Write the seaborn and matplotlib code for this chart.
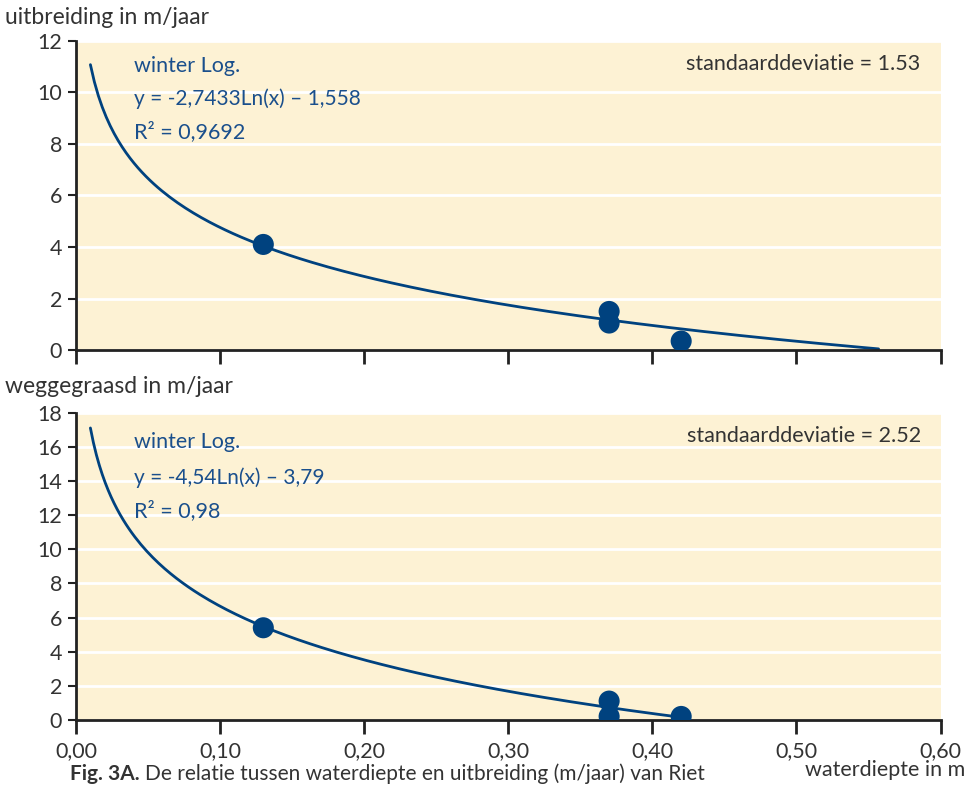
import numpy as np
import pandas as pd
import seaborn as sns
import matplotlib.pyplot as plt

# measured points (waterdiepte in m, m/jaar)
depth = [0.13, 0.37, 0.37, 0.42]
uitbreiding = [4.1, 1.5, 1.05, 0.35]
weggegraasd = [5.4, 1.1, 0.2, 0.2]

# log fits as printed in the chart: y = a*ln(x) + b
fit_top = (-2.7433, -1.558)
fit_bot = (-4.54, -3.79)
fit_top_range = (0.01, 0.557)
fit_bot_range = (0.01, 0.42)

x_ticks = [0.0, 0.1, 0.2, 0.3, 0.4, 0.5, 0.6]
x_tick_labels = ['0,00', '0,10', '0,20', '0,30', '0,40', '0,50', '0,60']

sns.set_style('white')
plt.rcParams['font.family'] = ['Lato', 'DejaVu Sans']

bg = '#fdf2d4'
blue = '#00427f'
txt_blue = '#1a4f8c'
grey = '#333333'

fig = plt.figure(figsize=(9.78, 7.85), dpi=100)
ax1 = fig.add_axes([0.0777, 0.554, 0.884, 0.394])
ax2 = fig.add_axes([0.0777, 0.083, 0.884, 0.391])


def fit_curve(coef, xr):
    xs = np.linspace(xr[0], xr[1], 200)
    return pd.DataFrame({'x': xs, 'y': coef[0] * np.log(xs) + coef[1]})


def style(ax, ymax, ystep):
    ax.set_facecolor(bg)
    ax.set_xlim(0, 0.6)
    ax.set_ylim(0, ymax)
    ax.set_yticks(np.arange(0, ymax + 1, ystep))
    ax.set_xticks(x_ticks)
    ax.yaxis.grid(True, color='white', lw=2)
    ax.set_axisbelow(True)
    for s in ['top', 'right']:
        ax.spines[s].set_visible(False)
    for s in ['left', 'bottom']:
        ax.spines[s].set_color('#222222')
        ax.spines[s].set_linewidth(2)
    ax.tick_params(axis='y', direction='out', length=6, width=1.5, color='#222222',
                   labelsize=15.5, labelcolor=grey, pad=4, left=True)
    ax.tick_params(axis='x', direction='out', length=10, width=2, color='#222222',
                   labelsize=15.5, labelcolor=grey, pad=5, bottom=True)
    ax.set_xlabel('')
    ax.set_ylabel('')


# top panel
sns.lineplot(data=fit_curve(fit_top, fit_top_range), x='x', y='y', ax=ax1,
             color=blue, lw=2)
sns.scatterplot(x=depth, y=uitbreiding, ax=ax1, color=blue, s=230,
                edgecolor='none', zorder=5)
style(ax1, 12, 2)
ax1.set_xticklabels([])
ax1.text(0.067, 0.92, 'winter Log.', transform=ax1.transAxes, color=txt_blue,
         fontsize=15.5, va='center')
ax1.text(0.067, 0.813, 'y = -2,7433Ln(x) \u2013 1,558', transform=ax1.transAxes,
         color=txt_blue, fontsize=15, va='center')
ax1.text(0.067, 0.707, 'R\u00b2 = 0,9692', transform=ax1.transAxes, color=txt_blue,
         fontsize=15.5, va='center')
ax1.text(0.977, 0.925, 'standaarddeviatie = 1.53', transform=ax1.transAxes,
         color=grey, fontsize=15.5, ha='right', va='center')
fig.text(0.005, 0.978, 'uitbreiding in m/jaar', color=grey, fontsize=16.5,
         va='center')

# bottom panel
sns.lineplot(data=fit_curve(fit_bot, fit_bot_range), x='x', y='y', ax=ax2,
             color=blue, lw=2)
sns.scatterplot(x=depth, y=weggegraasd, ax=ax2, color=blue, s=230,
                edgecolor='none', zorder=5)
style(ax2, 18, 2)
ax2.set_xticklabels(x_tick_labels)
ax2.text(0.067, 0.905, 'winter Log.', transform=ax2.transAxes, color=txt_blue,
         fontsize=15.5, va='center')
ax2.text(0.067, 0.79, 'y = -4,54Ln(x) \u2013 3,79', transform=ax2.transAxes,
         color=txt_blue, fontsize=15, va='center')
ax2.text(0.067, 0.682, 'R\u00b2 = 0,98', transform=ax2.transAxes, color=txt_blue,
         fontsize=15.5, va='center')
ax2.text(0.977, 0.925, 'standaarddeviatie = 2.52', transform=ax2.transAxes,
         color=grey, fontsize=15.5, ha='right', va='center')
fig.text(0.005, 0.508, 'weggegraasd in m/jaar', color=grey, fontsize=16.5,
         va='center')

fig.text(0.987, 0.006, 'waterdiepte in m', color=grey, fontsize=15.5, ha='right',
         va='bottom')

# caption, bold part followed by normal text
cap = fig.text(0.072, 0.001, 'Fig. 3A.', color=grey, fontsize=15,
               fontweight='bold', va='bottom')
fig.canvas.draw()
bb = cap.get_window_extent(fig.canvas.get_renderer())
fig.text(bb.x1 / fig.bbox.width + 0.005, 0.001,
         'De relatie tussen waterdiepte en uitbreiding (m/jaar) van Riet',
         color=grey, fontsize=15, va='bottom')

fig.savefig('out.png', dpi=100)
